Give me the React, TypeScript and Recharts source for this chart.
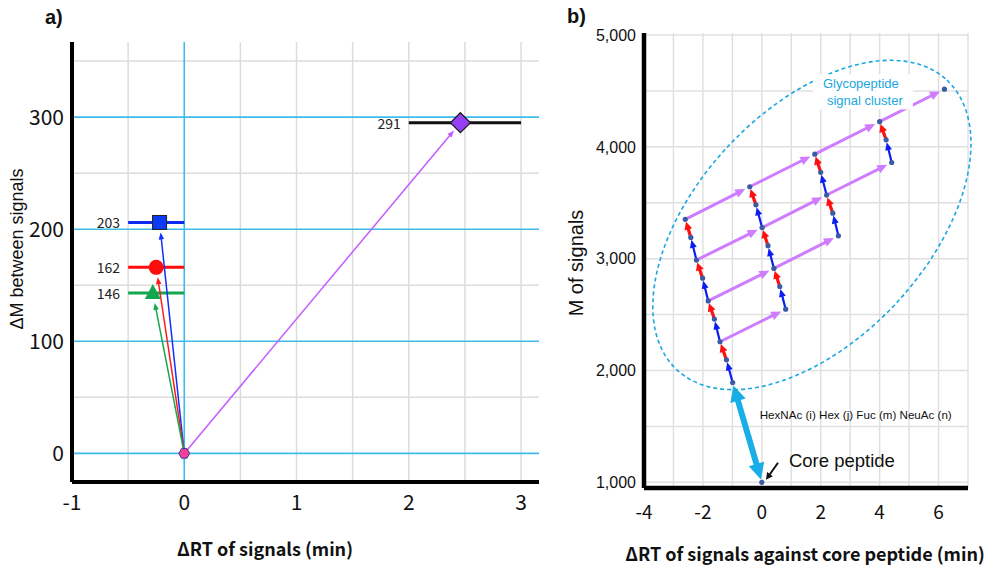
import React from "react";
import { ScatterChart, Scatter, XAxis, YAxis, CartesianGrid, ReferenceLine, ReferenceDot } from "recharts";

const jp = '"Noto Sans CJK JP", "Noto Sans", sans-serif';
const arial = '"Liberation Sans", Arial, sans-serif';

// ---- panel a) data ----
const aTicksX = [-1, 0, 1, 2, 3];
const aTicksY = [0, 100, 200, 300];
const aGridX = [-0.5, 0.5, 1, 1.5, 2, 2.5, 3];
const aGridY = [50, 150, 250, 350];
const aMajorY = [0, 100, 200, 300];

const residueNames = ["HexNAc", "Hex", "Fuc", "NeuAc"];
const residueLabels = ["203", "162", "146", "291"];
const residueRT = [-0.22, -0.25, -0.28, 2.46];
const residueDM = [206, 166, 143, 295];
const residueFrom = [-0.5, -0.5, -0.5, 2];
const residueTo = [0, 0, 0, 3];
const residueColors = ["#0b3cf5", "#ff0d0d", "#14a64c", "#9640f5"];
const rangeColors = ["#0b2cf0", "#ff0d0d", "#14a64c", "#111111"];
const arrowColors = ["#1030ff", "#ff1a1a", "#14a84a", "#c25cff"];

// ---- panel b) data ----
const bTicksX = [-4, -2, 0, 2, 4, 6];
const bTicksY = [1000, 2000, 3000, 4000, 5000];
const bGridX = [-3, -2, -1, 0, 1, 2, 3, 4, 5, 6, 7];
const bGridY = [1000, 1500, 2000, 2500, 3000, 3500, 4000, 4500, 5000];

const core = { x: 0, y: 1000 };
// each chain: alternating HexNAc (+203) / Hex (+162) steps
const chainRT = [
  [-0.99, -1.2, -1.42, -1.61, -1.82, -2.01, -2.22, -2.41, -2.6],
  [0.81, 0.61, 0.41, 0.21, 0.01, -0.2, -0.41],
  [2.6, 2.41, 2.2, 2.0, 1.8],
  [4.41, 4.22, 4.0],
  [6.2],
];
const chainM = [
  [1892, 2095, 2257, 2460, 2622, 2825, 2987, 3190, 3352],
  [2548, 2751, 2913, 3116, 3278, 3481, 3643],
  [3204, 3407, 3569, 3772, 3934],
  [3860, 4063, 4225],
  [4516],
];
// NeuAc links: [fromChain, fromIndex, toChain, toIndex]
const neuAcLinks = [
  [0, 2, 1, 0], [0, 4, 1, 2], [0, 6, 1, 4], [0, 8, 1, 6],
  [1, 2, 2, 0], [1, 4, 2, 2], [1, 6, 2, 4],
  [2, 2, 3, 0], [2, 4, 3, 2],
  [3, 2, 4, 0],
];

type ArrowStyle = { color: string; width: number; head: number; headW: number; gapEnd: number; gapStart?: number; both?: boolean };

const arrowShape = (st: ArrowStyle) => (p: any) => {
  const x1 = Number(p.x1), y1 = Number(p.y1), x2 = Number(p.x2), y2 = Number(p.y2);
  const dx = x2 - x1, dy = y2 - y1;
  const len = Math.hypot(dx, dy) || 1;
  const ux = dx / len, uy = dy / len;
  const nx = -uy, ny = ux;
  const g0 = st.gapStart ?? 0;
  const sx = x1 + ux * g0, sy = y1 + uy * g0;
  const ex = x2 - ux * st.gapEnd, ey = y2 - uy * st.gapEnd;
  const hw = st.headW / 2;
  const head = (tx: number, ty: number, vx: number, vy: number) => {
    const bx = tx - vx * st.head, by = ty - vy * st.head;
    return `${tx},${ty} ${bx + nx * hw},${by + ny * hw} ${bx - nx * hw},${by - ny * hw}`;
  };
  const ls = st.both ? st.head * 0.8 : 0;
  return (
    <g>
      <line
        x1={sx + ux * ls}
        y1={sy + uy * ls}
        x2={ex - ux * st.head * 0.8}
        y2={ey - uy * st.head * 0.8}
        stroke={st.color}
        strokeWidth={st.width}
      />
      <polygon points={head(ex, ey, ux, uy)} fill={st.color} />
      {st.both && <polygon points={head(sx, sy, -ux, -uy)} fill={st.color} />}
    </g>
  );
};

const rangeShape = (color: string, label: string) => (p: any) => (
  <g>
    <line x1={p.x1} y1={p.y1} x2={p.x2} y2={p.y2} stroke={color} strokeWidth={3} />
    <text x={Number(p.x1) - 8} y={p.y1} textAnchor="end" dominantBaseline="central" fontSize={14} fill="#222" fontFamily={jp}>
      {label}
    </text>
  </g>
);

const markerShape = (i: number) => (p: any) => {
  const { cx, cy } = p;
  const c = residueColors[i];
  if (i === 0) return <rect x={cx - 7} y={cy - 7} width={14} height={14} fill={c} stroke="#222" strokeWidth={1} />;
  if (i === 1) return <circle cx={cx} cy={cy} r={7.5} fill={c} />;
  if (i === 2) return <polygon points={`${cx},${cy - 9} ${cx + 8},${cy + 6} ${cx - 8},${cy + 6}`} fill={c} />;
  return <polygon points={`${cx},${cy - 10} ${cx + 10},${cy} ${cx},${cy + 10} ${cx - 10},${cy}`} fill={c} stroke="#1a1a1a" strokeWidth={1.2} />;
};

const hexShape = (p: any) => {
  const { cx, cy } = p;
  const pts = [0, 1, 2, 3, 4, 5]
    .map((k) => {
      const a = (Math.PI / 3) * k;
      return `${cx + 5.5 * Math.cos(a)},${cy + 5.5 * Math.sin(a)}`;
    })
    .join(" ");
  return <polygon points={pts} fill="#f23f9b" stroke="#3b3b8f" strokeWidth={1} />;
};

const dotShape = (p: any) => <circle cx={p.cx} cy={p.cy} r={2.6} fill="#3b5ba5" />;

function PanelA() {
  return (
    <ScatterChart width={560} height={570} margin={{ top: 42, right: 21, bottom: 48, left: 0 }}>
      <CartesianGrid stroke="#dcdcdc" strokeWidth={1.5} verticalValues={aGridX} horizontalValues={aGridY} />
      <XAxis
        dataKey="x"
        type="number"
        domain={[-1, 3.16]}
        allowDataOverflow
        ticks={aTicksX}
        height={40}
        tickLine={false}
        tickMargin={7}
        axisLine={{ stroke: "#000", strokeWidth: 4 }}
        tick={{ fontSize: 21, fill: "#111", fontFamily: jp }}
      />
      <YAxis
        dataKey="y"
        type="number"
        domain={[-25.5, 367]}
        allowDataOverflow
        ticks={aTicksY}
        width={72}
        tickLine={false}
        axisLine={{ stroke: "#000", strokeWidth: 4 }}
        tick={{ fontSize: 21, fill: "#111", fontFamily: jp }}
      />
      {aMajorY.map((v) => (
        <ReferenceLine key={"hy" + v} y={v} stroke="#3dbcec" strokeWidth={1.6} />
      ))}
      <ReferenceLine x={0} stroke="#3dbcec" strokeWidth={1.6} />
      {residueNames.map((n, i) => (
        <ReferenceLine
          key={"rg" + n}
          segment={[
            { x: residueFrom[i], y: residueDM[i] },
            { x: residueTo[i], y: residueDM[i] },
          ]}
          shape={rangeShape(rangeColors[i], residueLabels[i])}
        />
      ))}
      {residueNames.map((n, i) => (
        <ReferenceLine
          key={"ar" + n}
          segment={[
            { x: 0, y: 0 },
            { x: residueRT[i], y: residueDM[i] },
          ]}
          shape={arrowShape({ color: arrowColors[i], width: 1.5, head: 7, headW: 5.5, gapEnd: 10 })}
        />
      ))}
      {residueNames.map((n, i) => (
        <Scatter key={"m" + n} name={n} data={[{ x: residueRT[i], y: residueDM[i] }]} shape={markerShape(i)} isAnimationActive={false} />
      ))}
      <Scatter name="core" data={[{ x: 0, y: 0 }]} shape={hexShape} isAnimationActive={false} />
    </ScatterChart>
  );
}

const blueArrow: ArrowStyle = { color: "#0a1ef0", width: 2.2, head: 8, headW: 7, gapEnd: 2.5 };
const redArrow: ArrowStyle = { color: "#ff1010", width: 3.2, head: 8, headW: 8, gapEnd: 2.5 };
const purpleArrow: ArrowStyle = { color: "#cf7cff", width: 3, head: 10, headW: 9, gapEnd: 5 };
const cyanArrow: ArrowStyle = { color: "#19aee6", width: 6, head: 16, headW: 16, gapEnd: 3, gapStart: 3, both: true };
const blackArrow: ArrowStyle = { color: "#111", width: 2, head: 7, headW: 7, gapEnd: 0 };

function PanelB() {
  const dots = [core];
  chainRT.forEach((c, k) => c.forEach((x, i) => dots.push({ x, y: chainM[k][i] })));
  return (
    <ScatterChart width={440} height={570} margin={{ top: 33, right: 32, bottom: 42, left: 0 }}>
      <CartesianGrid stroke="#e0e0e0" strokeWidth={1.5} verticalValues={bGridX} horizontalValues={bGridY} />
      <XAxis
        dataKey="x"
        type="number"
        domain={[-4, 7]}
        allowDataOverflow
        ticks={bTicksX}
        height={40}
        tickLine={false}
        tickMargin={12}
        axisLine={{ stroke: "#000", strokeWidth: 4.5 }}
        tick={{ fontSize: 19, fill: "#111", fontFamily: jp }}
      />
      <YAxis
        dataKey="y"
        type="number"
        domain={[949, 5018]}
        allowDataOverflow
        ticks={bTicksY}
        width={84}
        tickLine={false}
        tickFormatter={(v: number) => v.toLocaleString("en-US")}
        axisLine={{ stroke: "#000", strokeWidth: 4.5 }}
        tick={{ fontSize: 16, fill: "#111", fontFamily: arial }}
      />
      <ReferenceDot
        x={1.7}
        y={3301}
        shape={(p: any) => (
          <ellipse
            cx={p.cx}
            cy={p.cy}
            rx={198}
            ry={115}
            transform={`rotate(-47 ${p.cx} ${p.cy})`}
            fill="none"
            stroke="#1aa7e0"
            strokeWidth={1.6}
            strokeDasharray="4 3"
          />
        )}
      />
      <ReferenceDot
        x={3.43}
        y={4496}
        shape={(p: any) => (
          <g fontFamily={arial} fontSize={13} fill="#1aa7e0" textAnchor="middle">
            <rect x={p.cx - 50} y={p.cy - 17} width={100} height={35} fill="#fff" />
            <text x={p.cx - 2} y={p.cy - 8} dominantBaseline="central">Glycopeptide</text>
            <text x={p.cx + 2} y={p.cy + 9} dominantBaseline="central">signal cluster</text>
          </g>
        )}
      />
      <ReferenceLine
        segment={[
          { x: core.x, y: core.y },
          { x: chainRT[0][0], y: chainM[0][0] },
        ]}
        shape={arrowShape(cyanArrow)}
      />
      {chainRT.map((c, k) =>
        c.slice(1).map((x, i) => (
          <ReferenceLine
            key={`c${k}-${i}`}
            segment={[
              { x: c[i], y: chainM[k][i] },
              { x, y: chainM[k][i + 1] },
            ]}
            shape={arrowShape(i % 2 === 0 ? blueArrow : redArrow)}
          />
        ))
      )}
      {neuAcLinks.map(([fc, fi, tc, ti]) => (
        <ReferenceLine
          key={`n${fc}-${fi}`}
          segment={[
            { x: chainRT[fc][fi], y: chainM[fc][fi] },
            { x: chainRT[tc][ti], y: chainM[tc][ti] },
          ]}
          shape={arrowShape(purpleArrow)}
        />
      ))}
      <ReferenceLine
        segment={[
          { x: 0.55, y: 1175 },
          { x: 0.14, y: 1022 },
        ]}
        shape={arrowShape(blackArrow)}
      />
      <ReferenceDot
        x={0.92}
        y={1199}
        shape={(p: any) => (
          <text x={p.cx} y={p.cy} dominantBaseline="central" fontSize={18.5} fontFamily={arial} fill="#111">
            Core peptide
          </text>
        )}
      />
      <ReferenceDot
        x={-0.07}
        y={1602}
        shape={(p: any) => (
          <text x={p.cx} y={p.cy} dominantBaseline="central" fontSize={11.6} fontFamily={arial} fill="#111">
            HexNAc (i) Hex (j) Fuc (m) NeuAc (n)
          </text>
        )}
      />
      <Scatter name="signals" data={dots} shape={dotShape} isAnimationActive={false} />
    </ScatterChart>
  );
}

export default function App() {
  return (
    <div style={{ position: "absolute", left: 0, top: 0, width: 1000, height: 570, background: "#fff" }}>
      <div style={{ position: "absolute", left: 0, top: 0 }}>
        <PanelA />
      </div>
      <div style={{ position: "absolute", left: 560, top: 0 }}>
        <PanelB />
      </div>
      <svg width={1000} height={570} style={{ position: "absolute", left: 0, top: 0, pointerEvents: "none" }}>
        <text x={45} y={24} fontSize={20} fontWeight="bold" fontFamily={arial} fill="#111">a)</text>
        <text x={567} y={23} fontSize={20} fontWeight="bold" fontFamily={arial} fill="#111">b)</text>
        <text x={17} y={249} transform="rotate(-90 17 249)" textAnchor="middle" dominantBaseline="central" fontSize={18} fontFamily={arial} fill="#111">
          ΔM between signals
        </text>
        <text x={576} y={263} transform="rotate(-90 576 263)" textAnchor="middle" dominantBaseline="central" fontSize={20} fontFamily={arial} fill="#111">
          M of signals
        </text>
        <text x={265} y={548} textAnchor="middle" dominantBaseline="central" fontSize={18} fontWeight="bold" fontFamily={jp} fill="#111">
          ΔRT of signals (min)
        </text>
        <text x={805} y={553} textAnchor="middle" dominantBaseline="central" fontSize={18} fontWeight="bold" fontFamily={jp} fill="#111">
          ΔRT of signals against core peptide (min)
        </text>
      </svg>
    </div>
  );
}
